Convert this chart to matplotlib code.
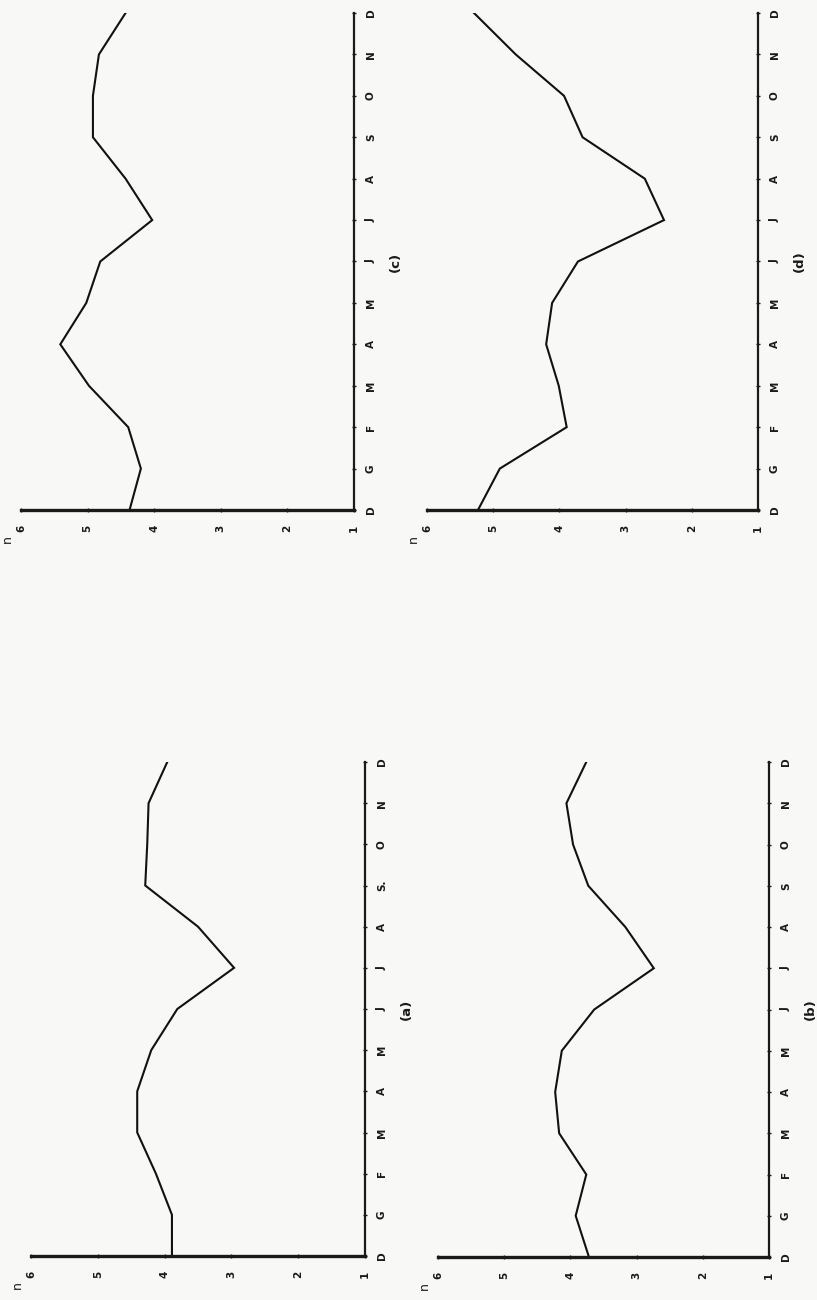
import matplotlib.pyplot as plt

# months (Italian initials), Dec -> Dec
months = ['D', 'G', 'F', 'M', 'A', 'M', 'J', 'J', 'A', 'S', 'O', 'N', 'D']
months_a = ['D', 'G', 'F', 'M', 'A', 'M', 'J', 'J', 'A', 'S.', 'O', 'N', 'D']
n_ticks = [1, 2, 3, 4, 5, 6]

# monthly values of n for each panel
n_a = [3.89, 3.89, 4.13, 4.41, 4.41, 4.2, 3.81, 2.96, 3.5, 4.29, 4.26, 4.24, 3.96]
n_b = [3.72, 3.92, 3.76, 4.17, 4.23, 4.13, 3.64, 2.74, 3.17, 3.73, 3.96, 4.06, 3.76]
n_c = [4.37, 4.2, 4.39, 4.98, 5.41, 5.02, 4.81, 4.03, 4.43, 4.92, 4.92, 4.83, 4.43]
n_d = [5.23, 4.9, 3.89, 4.01, 4.2, 4.11, 3.72, 2.42, 2.71, 3.65, 3.93, 4.66, 5.29]

W, H = 817, 1300
fig = plt.figure(figsize=(W / 100, H / 100), dpi=100)
fig.patch.set_facecolor('#f8f8f6')


def panel(box, values, labels, tag):
    # box = (left, top, right, bottom) in pixels of the picture
    l, t, r, b = box
    ax = fig.add_axes([l / W, 1 - b / H, (r - l) / W, (b - t) / H])
    ax.set_facecolor('none')
    months_idx = list(range(len(values)))
    ax.plot(values, months_idx, color='#111111', lw=1.5, solid_joinstyle='miter')
    ax.set_xlim(6, 1)
    ax.set_ylim(0, 12)
    for s in ['left', 'top']:
        ax.spines[s].set_visible(False)
    ax.spines['bottom'].set_linewidth(2.4)
    ax.spines['right'].set_linewidth(1.6)
    ax.spines['bottom'].set_color('#1a1a1a')
    ax.spines['right'].set_color('#1a1a1a')
    ax.yaxis.tick_right()
    ax.set_xticks(n_ticks)
    ax.set_xticklabels([str(v) for v in n_ticks])
    ax.set_yticks(months_idx)
    ax.set_yticklabels(labels)
    ax.tick_params(axis='x', direction='inout', length=3, width=1, pad=9,
                   labelrotation=90, labelsize=7.5, colors='#1a1a1a')
    ax.tick_params(axis='y', direction='inout', length=3, width=1, pad=7,
                   labelrotation=90, labelsize=7.5, colors='#1a1a1a')
    for lab in ax.get_yticklabels():
        lab.set_va('center')
        lab.set_fontweight('bold')
    for lab in ax.get_xticklabels():
        lab.set_fontweight('bold')
    ax.annotate('n', xy=(0, 0), xycoords='axes fraction', xytext=(-10, -21),
                textcoords='offset points', rotation=90, fontsize=9,
                ha='center', va='center', color='#1a1a1a')
    ax.annotate(tag, xy=(1, 6), xycoords='data', xytext=(30, 0),
                textcoords='offset points', rotation=90, fontsize=9.5,
                fontweight='bold', ha='center', va='center', color='#1a1a1a')
    return ax


panel((21, 13, 354, 510), n_c, months, '(c)')
panel((427, 13, 758, 510), n_d, months, '(d)')
panel((31, 762, 365, 1256), n_a, months_a, '(a)')
panel((438, 762, 769, 1257), n_b, months, '(b)')

fig.savefig('out.png', dpi=100, facecolor=fig.get_facecolor())
